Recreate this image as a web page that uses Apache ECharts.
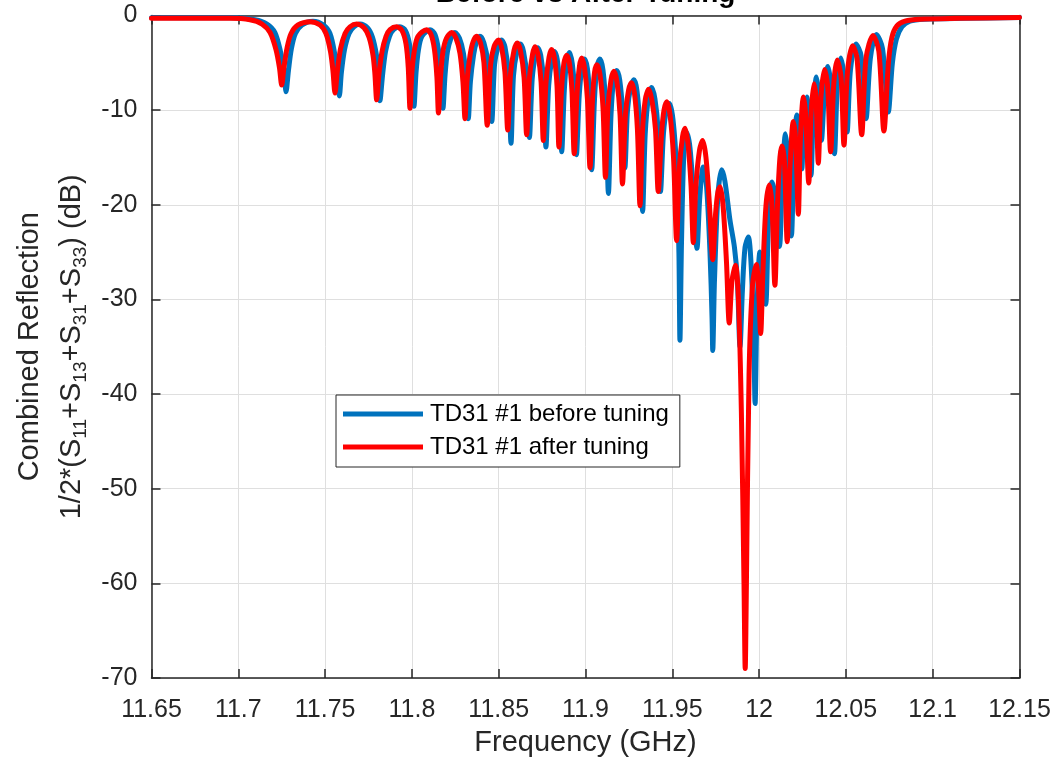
<!DOCTYPE html>
<html>
<head>
<meta charset="utf-8">
<title>Before vs After Tuning</title>
<script src="https://cdn.jsdelivr.net/npm/echarts@6.0.0/dist/echarts.min.js"></script>
<style>
  html, body { margin: 0; padding: 0; background: #fff; }
  #chart { width: 1055px; height: 764px; }
</style>
</head>
<body>
<div id="chart"></div>
<script>
// frequency range and dB range of the plot
var freqRange = [11.65, 12.15]
var dbRange = [-70, 0]

// TD31 #1 before tuning
var beforeFreq = [
  11.6500, 11.6981, 11.7096, 11.7165, 11.7211, 11.7243, 11.7263, 11.7275, 11.7289, 11.7306, 11.7329, 11.7367,
  11.7430, 11.7491, 11.7528, 11.7554, 11.7568, 11.7582, 11.7594, 11.7612, 11.7638, 11.7666, 11.7701, 11.7744,
  11.7773, 11.7796, 11.7808, 11.7816, 11.7831, 11.7848, 11.7871, 11.7894, 11.7931, 11.7963, 11.7986, 11.8000,
  11.8012, 11.8024, 11.8038, 11.8058, 11.8104, 11.8133, 11.8153, 11.8169, 11.8179, 11.8191, 11.8205, 11.8225,
  11.8248, 11.8274, 11.8297, 11.8314, 11.8325, 11.8337, 11.8355, 11.8372, 11.8392, 11.8415, 11.8438, 11.8460,
  11.8476, 11.8496, 11.8516, 11.8536, 11.8556, 11.8571, 11.8585, 11.8605, 11.8625, 11.8643, 11.8663, 11.8677,
  11.8693, 11.8711, 11.8725, 11.8742, 11.8760, 11.8772, 11.8788, 11.8806, 11.8821, 11.8837, 11.8852, 11.8863,
  11.8878, 11.8892, 11.8908, 11.8924, 11.8938, 11.8948, 11.8964, 11.8980, 11.8994, 11.9011, 11.9025, 11.9036,
  11.9052, 11.9066, 11.9083, 11.9101, 11.9118, 11.9132, 11.9147, 11.9163, 11.9180, 11.9197, 11.9213, 11.9227,
  11.9242, 11.9261, 11.9279, 11.9297, 11.9314, 11.9329, 11.9344, 11.9363, 11.9381, 11.9400, 11.9418, 11.9432,
  11.9449, 11.9466, 11.9484, 11.9504, 11.9524, 11.9538, 11.9544, 11.9553, 11.9567, 11.9584, 11.9602, 11.9622,
  11.9642, 11.9659, 11.9678, 11.9697, 11.9717, 11.9729, 11.9733, 11.9743, 11.9763, 11.9784, 11.9803, 11.9832,
  11.9858, 11.9875, 11.9890, 11.9904, 11.9919, 11.9938, 11.9953, 11.9968, 11.9977, 11.9988, 12.0005, 12.0019,
  12.0038, 12.0054, 12.0074, 12.0091, 12.0117, 12.0135, 12.0152, 12.0166, 12.0186, 12.0201, 12.0218, 12.0233,
  12.0246, 12.0258, 12.0275, 12.0287, 12.0299, 12.0313, 12.0330, 12.0345, 12.0359, 12.0377, 12.0396, 12.0414,
  12.0434, 12.0451, 12.0470, 12.0489, 12.0507, 12.0526, 12.0558, 12.0587, 12.0616, 12.0641, 12.0676, 12.0711,
  12.0744, 12.0768, 12.0791, 12.0823, 12.0869, 12.0955, 12.1186, 12.1500
]
var beforeDb = [
  -0.25, -0.25, -0.45, -0.9, -1.8, -3.8, -5.8, -8.05, -5.8, -3.5, -1.9, -1.0,
  -0.6, -1.0, -1.9, -3.9, -6.0, -8.5, -6.0, -3.6, -1.9, -1.2, -0.9, -1.3,
  -2.3, -4.2, -6.3, -9.0, -6.3, -3.8, -2.2, -1.5, -1.2, -1.6, -3.0, -5.5,
  -9.6, -6.0, -3.6, -2.2, -1.5, -2.0, -3.6, -6.3, -9.8, -6.3, -3.8, -2.4,
  -1.8, -2.4, -4.0, -7.0, -10.9, -7.0, -4.2, -2.8, -2.2, -2.9, -5.0, -11.2,
  -5.2, -3.3, -2.6, -3.3, -6.2, -13.5, -6.4, -3.8, -3.0, -3.8, -6.6, -12.9,
  -6.7, -4.2, -3.4, -4.2, -7.2, -13.9, -7.4, -4.6, -3.8, -4.6, -7.6, -14.4,
  -7.9, -4.8, -3.9, -5.1, -8.1, -14.7, -8.4, -5.4, -4.6, -5.6, -8.9, -16.3,
  -8.8, -5.4, -4.6, -5.8, -10.0, -18.8, -10.5, -6.6, -5.8, -6.8, -10.0, -16.1,
  -10.0, -7.5, -6.8, -8.0, -12.0, -20.7, -12.5, -8.6, -7.6, -8.8, -12.0, -18.6,
  -12.5, -10.0, -9.3, -11.0, -16.0, -25.0, -34.3, -24.0, -14.5, -12.4, -14.0, -19.0,
  -24.6, -19.0, -16.0, -18.0, -25.0, -32.0, -35.4, -28.0, -19.0, -16.3, -17.5, -21.6,
  -24.5, -28.0, -35.0, -29.0, -24.5, -23.4, -26.0, -33.0, -41.0, -31.0, -25.0, -26.5,
  -30.5, -22.0, -17.6, -19.0, -24.4, -16.5, -12.5, -15.0, -23.3, -15.0, -10.5, -12.0,
  -16.2, -11.0, -8.6, -11.0, -16.9, -10.0, -6.5, -8.5, -13.2, -8.0, -5.4, -7.5,
  -14.6, -7.2, -4.5, -6.5, -12.3, -5.8, -3.0, -4.2, -10.9, -4.5, -2.0, -3.5,
  -10.2, -5.0, -2.5, -1.2, -0.6, -0.4, -0.3, -0.2
]

// TD31 #1 after tuning
var afterFreq = [
  11.6500, 11.6952, 11.7067, 11.7137, 11.7183, 11.7217, 11.7237, 11.7250, 11.7263, 11.7281, 11.7304, 11.7344,
  11.7413, 11.7471, 11.7505, 11.7531, 11.7545, 11.7557, 11.7571, 11.7589, 11.7615, 11.7643, 11.7682, 11.7724,
  11.7753, 11.7776, 11.7787, 11.7797, 11.7810, 11.7828, 11.7851, 11.7874, 11.7912, 11.7943, 11.7966, 11.7979,
  11.7989, 11.8000, 11.8015, 11.8035, 11.8085, 11.8110, 11.8130, 11.8144, 11.8153, 11.8165, 11.8179, 11.8199,
  11.8229, 11.8254, 11.8277, 11.8294, 11.8306, 11.8317, 11.8335, 11.8352, 11.8373, 11.8395, 11.8415, 11.8434,
  11.8453, 11.8473, 11.8498, 11.8516, 11.8536, 11.8552, 11.8568, 11.8588, 11.8607, 11.8625, 11.8646, 11.8661,
  11.8677, 11.8695, 11.8709, 11.8726, 11.8744, 11.8757, 11.8772, 11.8790, 11.8805, 11.8821, 11.8836, 11.8847,
  11.8862, 11.8876, 11.8892, 11.8908, 11.8922, 11.8935, 11.8951, 11.8965, 11.8978, 11.8994, 11.9011, 11.9026,
  11.9040, 11.9052, 11.9066, 11.9083, 11.9101, 11.9115, 11.9129, 11.9147, 11.9164, 11.9181, 11.9199, 11.9213,
  11.9230, 11.9248, 11.9265, 11.9282, 11.9299, 11.9314, 11.9328, 11.9345, 11.9364, 11.9383, 11.9403, 11.9419,
  11.9438, 11.9452, 11.9468, 11.9487, 11.9507, 11.9525, 11.9541, 11.9559, 11.9573, 11.9590, 11.9608, 11.9621,
  11.9636, 11.9657, 11.9675, 11.9694, 11.9714, 11.9733, 11.9749, 11.9763, 11.9775, 11.9792, 11.9812, 11.9828,
  11.9844, 11.9864, 11.9881, 11.9898, 11.9913, 11.9920, 11.9927, 11.9942, 11.9962, 11.9984, 11.9996, 12.0009,
  12.0022, 12.0040, 12.0059, 12.0074, 12.0091, 12.0106, 12.0120, 12.0132, 12.0146, 12.0162, 12.0178, 12.0197,
  12.0210, 12.0226, 12.0238, 12.0255, 12.0267, 12.0286, 12.0299, 12.0316, 12.0328, 12.0341, 12.0357, 12.0377,
  12.0394, 12.0412, 12.0431, 12.0450, 12.0472, 12.0489, 12.0509, 12.0539, 12.0564, 12.0591, 12.0616, 12.0656,
  12.0690, 12.0719, 12.0745, 12.0765, 12.0794, 12.0840, 12.0927, 12.1157, 12.1500
]
var afterDb = [
  -0.3, -0.3, -0.45, -0.9, -1.8, -3.6, -5.5, -7.35, -5.5, -3.4, -1.9, -1.0,
  -0.65, -1.0, -1.9, -3.8, -5.8, -8.2, -5.8, -3.5, -1.9, -1.2, -0.9, -1.3,
  -2.3, -4.2, -6.2, -8.9, -6.2, -3.8, -2.2, -1.5, -1.2, -1.6, -3.0, -5.5,
  -9.8, -6.0, -3.6, -2.2, -1.5, -2.0, -3.6, -6.5, -10.3, -6.5, -3.8, -2.4,
  -1.8, -2.4, -4.0, -7.0, -10.9, -7.0, -4.2, -2.8, -2.2, -2.9, -5.0, -11.6,
  -5.2, -3.3, -2.6, -3.3, -6.0, -12.1, -6.2, -3.7, -2.9, -3.7, -6.5, -12.6,
  -6.6, -4.1, -3.3, -4.1, -7.0, -13.2, -7.2, -4.4, -3.6, -4.5, -7.5, -13.9,
  -7.8, -5.0, -4.2, -5.1, -8.0, -14.6, -8.3, -5.4, -4.5, -5.5, -8.8, -16.1,
  -9.0, -6.0, -5.2, -6.2, -9.8, -17.1, -9.8, -6.8, -5.9, -7.0, -10.5, -17.8,
  -10.5, -7.9, -7.1, -8.2, -12.0, -20.1, -12.3, -8.8, -7.8, -9.0, -12.0, -18.6,
  -12.5, -10.0, -9.1, -10.5, -15.0, -23.8, -16.0, -12.8, -11.9, -13.5, -18.0, -24.0,
  -18.0, -14.2, -13.2, -15.0, -20.0, -25.8, -21.0, -18.6, -18.1, -20.0, -26.0, -32.5,
  -28.0, -26.4, -30.0, -42.0, -60.0, -69.0, -60.0, -38.0, -28.5, -26.3, -28.5, -33.6,
  -27.0, -20.0, -17.9, -20.0, -28.5, -20.0, -15.0, -13.8, -15.5, -23.9, -16.0, -11.2,
  -13.0, -21.0, -13.0, -8.6, -10.2, -17.7, -10.5, -7.2, -8.8, -15.6, -8.5, -5.7,
  -7.3, -14.4, -7.0, -4.7, -6.5, -13.7, -6.0, -3.2, -4.5, -12.6, -4.5, -2.1,
  -3.8, -12.2, -5.0, -2.3, -1.1, -0.6, -0.4, -0.3, -0.2
]

var seriesNames = ['TD31 #1 before tuning', 'TD31 #1 after tuning']
var seriesColors = ['#0072BD', '#FF0000']

function pairs(xs, ys) {
  return xs.map(function(x, i) { return [x, ys[i]] })
}

var FONT = 'Liberation Sans, Arial, Helvetica, sans-serif'
var AXIS_COLOR = '#262626'

var chart = echarts.init(document.getElementById('chart'), null, { renderer: 'canvas' })

// top and right edges of the box: ticks only, no labels
var boxAxis = {
  axisLine: { show: true, onZero: false, lineStyle: { color: AXIS_COLOR, width: 1.5 } },
  axisTick: { show: true, inside: true, length: 9, lineStyle: { color: AXIS_COLOR, width: 1.5 } },
  axisLabel: { show: false },
  splitLine: { show: false }
}

chart.setOption({
  animation: false,
  backgroundColor: '#fff',
  textStyle: { fontFamily: FONT },
  grid: { left: 151.5, right: 35.5, top: 15.5, bottom: 86, containLabel: false },
  graphic: [{
    type: 'text',
    x: 585.5,
    y: -6,
    z: 100,
    style: {
      text: 'Before vs After Tuning',
      font: 'bold 28px ' + FONT,
      fill: '#000',
      textAlign: 'center',
      textVerticalAlign: 'middle'
    }
  }],
  legend: {
    orient: 'vertical',
    left: 336,
    top: 395,
    data: seriesNames,
    icon: 'rect',
    itemWidth: 80,
    itemHeight: 5,
    itemGap: 9,
    padding: [7, 11, 8, 7],
    backgroundColor: '#fff',
    borderColor: AXIS_COLOR,
    borderWidth: 1,
    borderRadius: 0,
    textStyle: { fontSize: 24, color: '#000', fontFamily: FONT, padding: [0, 0, 0, 2] }
  },
  xAxis: [{
    type: 'value',
    min: freqRange[0],
    max: freqRange[1],
    interval: 0.05,
    name: 'Frequency (GHz)',
    nameLocation: 'middle',
    nameGap: 50,
    nameTextStyle: { fontSize: 29, color: AXIS_COLOR, fontFamily: FONT },
    axisLine: { show: true, onZero: false, lineStyle: { color: AXIS_COLOR, width: 1.5 } },
    axisTick: { show: true, inside: true, length: 9, lineStyle: { color: AXIS_COLOR, width: 1.5 } },
    axisLabel: {
      fontSize: 25, color: AXIS_COLOR, margin: 20, fontFamily: FONT,
      formatter: function(v) { return String(Number(v.toFixed(2))) }
    },
    splitLine: { show: true, lineStyle: { color: '#dfdfdf', width: 1 } }
  }, Object.assign({
    type: 'value',
    position: 'top',
    min: freqRange[0],
    max: freqRange[1],
    interval: 0.05
  }, boxAxis)],
  yAxis: [{
    type: 'value',
    min: dbRange[0],
    max: dbRange[1],
    interval: 10,
    name: '{a|Combined Reflection}\n{a|1/2*(S}{s|11}{a|+S}{s|13}{a|+S}{s|31}{a|+S}{s|33}{a|) (dB)}',
    nameLocation: 'middle',
    nameRotate: 90,
    nameGap: 57,
    nameTextStyle: {
      color: AXIS_COLOR,
      fontFamily: FONT,
      rich: {
        a: { fontSize: 29, lineHeight: 42, color: AXIS_COLOR, fontFamily: FONT },
        s: { fontSize: 19, padding: [18, 0, 0, 0], color: AXIS_COLOR, fontFamily: FONT }
      }
    },
    axisLine: { show: true, onZero: false, lineStyle: { color: AXIS_COLOR, width: 1.5 } },
    axisTick: { show: true, inside: true, length: 9, lineStyle: { color: AXIS_COLOR, width: 1.5 } },
    axisLabel: { fontSize: 25, color: AXIS_COLOR, margin: 14, fontFamily: FONT },
    splitLine: { show: true, lineStyle: { color: '#dfdfdf', width: 1 } }
  }, Object.assign({
    type: 'value',
    position: 'right',
    min: dbRange[0],
    max: dbRange[1],
    interval: 10
  }, boxAxis)],
  series: [{
    name: seriesNames[0],
    type: 'line',
    xAxisIndex: 0,
    yAxisIndex: 0,
    data: pairs(beforeFreq, beforeDb),
    showSymbol: false,
    symbol: 'none',
    smooth: 0.3,
    color: seriesColors[0],
    lineStyle: { width: 5, color: seriesColors[0], cap: 'round', join: 'round' }
  }, {
    name: seriesNames[1],
    type: 'line',
    xAxisIndex: 0,
    yAxisIndex: 0,
    data: pairs(afterFreq, afterDb),
    showSymbol: false,
    symbol: 'none',
    smooth: 0.3,
    color: seriesColors[1],
    lineStyle: { width: 5, color: seriesColors[1], cap: 'round', join: 'round' }
  }]
})
</script>
</body>
</html>
